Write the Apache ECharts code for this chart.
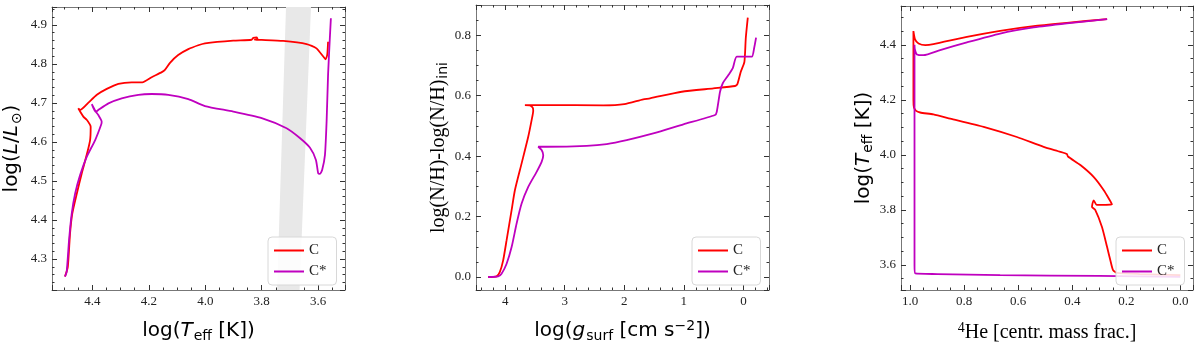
<!DOCTYPE html>
<html lang="en">

<head>
    <meta charset="utf-8" />
    <title>C / C* evolution tracks</title>
    <style>
        html, body { margin: 0; padding: 0; background: #fff; }
        #main { width: 1200px; height: 350px; }
    </style>
</head>

<body>
<div id="main"></div>

<script src="https://cdn.jsdelivr.net/npm/echarts@6/dist/echarts.min.js"></script>
<script type="text/javascript">
    // panel 1: HR diagram, log Teff vs log L
    var hrTeffC = [4.497, 4.487, 4.479, 4.471, 4.455, 4.4375, 4.420, 4.408, 4.406, 4.409, 4.420, 4.432, 4.4435, 4.450, 4.4435, 4.414, 4.384, 4.349, 4.308, 4.261, 4.223, 4.190, 4.154, 4.143, 4.125, 4.096, 4.060, 4.025, 4.001, 3.901, 3.836, 3.830, 3.818, 3.815, 3.825, 3.800, 3.724, 3.641, 3.606, 3.582, 3.574, 3.568, 3.565];
    var hrLumC = [4.255, 4.280, 4.366, 4.417, 4.468, 4.520, 4.567, 4.605, 4.639, 4.645, 4.657, 4.665, 4.678, 4.686, 4.682, 4.701, 4.721, 4.736, 4.749, 4.753, 4.753, 4.766, 4.779, 4.785, 4.803, 4.823, 4.838, 4.848, 4.853, 4.860, 4.862, 4.867, 4.868, 4.864, 4.862, 4.8615, 4.859, 4.851, 4.840, 4.819, 4.812, 4.823, 4.857];
    var hrTeffCs = [4.497, 4.491, 4.4825, 4.473, 4.461, 4.4435, 4.420, 4.390, 4.369, 4.367, 4.379, 4.388, 4.402, 4.388, 4.379, 4.343, 4.296, 4.237, 4.190, 4.131, 4.060, 4.001, 3.901, 3.800, 3.712, 3.665, 3.629, 3.608, 3.600, 3.594, 3.586, 3.576, 3.570, 3.565, 3.559, 3.555];
    var hrLumCs = [4.255, 4.267, 4.349, 4.417, 4.468, 4.515, 4.562, 4.605, 4.644, 4.652, 4.669, 4.678, 4.697, 4.677, 4.682, 4.699, 4.712, 4.721, 4.723, 4.721, 4.710, 4.692, 4.678, 4.661, 4.635, 4.610, 4.585, 4.554, 4.520, 4.518, 4.528, 4.567, 4.656, 4.772, 4.862, 4.917];
    // grey instability strip (corners)
    var stripTeff = [3.714, 3.6255, 3.666, 3.7455];
    var stripLum = [4.946, 4.946, 4.2205, 4.2205];

    // panel 2: log g vs surface N enrichment
    var gravC = [4.286, 4.145, 4.089, 4.034, 3.976, 3.892, 3.837, 3.724, 3.613, 3.556, 3.529, 3.539, 3.585, 3.669, 3.300, 2.353, 2.000, 1.681, 1.568, 1.035, 0.504, 0.139, 0.101, 0.044, -0.017, -0.040, -0.074];
    var nhC = [0.000, 0.002, 0.017, 0.055, 0.122, 0.221, 0.287, 0.376, 0.464, 0.519, 0.550, 0.561, 0.568, 0.569, 0.569, 0.568, 0.572, 0.588, 0.591, 0.613, 0.624, 0.632, 0.638, 0.679, 0.712, 0.790, 0.858];
    var gravCs = [4.286, 4.118, 4.061, 3.976, 3.892, 3.808, 3.724, 3.613, 3.472, 3.388, 3.361, 3.388, 3.445, 3.304, 2.632, 2.296, 1.960, 1.513, 1.008, 0.476, 0.447, 0.392, 0.346, 0.252, 0.178, 0.111, -0.141, -0.180, -0.213];
    var nhCs = [0.000, 0.002, 0.011, 0.044, 0.099, 0.177, 0.243, 0.298, 0.348, 0.381, 0.403, 0.420, 0.431, 0.431, 0.434, 0.440, 0.453, 0.475, 0.505, 0.536, 0.547, 0.613, 0.641, 0.668, 0.691, 0.729, 0.729, 0.757, 0.792];

    // panel 3: central He mass fraction vs log Teff
    var heC = [0.271, 0.420, 0.543, 0.667, 0.790, 0.914, 0.944, 0.969, 0.982, 0.988, 0.988, 0.986, 0.978, 0.963, 0.914, 0.852, 0.728, 0.605, 0.506, 0.444, 0.420, 0.416, 0.370, 0.321, 0.284, 0.253, 0.309, 0.321, 0.327, 0.315, 0.290, 0.271, 0.259, 0.249, 0.234, 0.150, 0.000];
    var teffC = [4.4935, 4.480, 4.468, 4.451, 4.429, 4.4025, 4.399, 4.405, 4.420, 4.450, 4.200, 4.172, 4.160, 4.154, 4.147, 4.132, 4.102, 4.065, 4.029, 4.011, 4.003, 3.994, 3.963, 3.920, 3.872, 3.820, 3.818, 3.835, 3.811, 3.800, 3.738, 3.665, 3.617, 3.581, 3.571, 3.567, 3.563];
    var heCs = [0.271, 0.420, 0.543, 0.667, 0.790, 0.889, 0.951, 0.975, 0.983, 0.984, 0.984, 0.981, 0.900, 0.667, 0.300, 0.000];
    var teffCs = [4.4935, 4.478, 4.463, 4.441, 4.409, 4.381, 4.3625, 4.365, 4.385, 4.400, 3.600, 3.569, 3.567, 3.563, 3.560, 3.557];

    var RED = '#ff0000';
    var MAGENTA = '#bf00bf';
    var SANS = 'DejaVu Sans';
    var SERIF = 'Liberation Serif';

    function zip(xs, ys) {
        return xs.map(function (x, i) { return [x, ys[i]]; });
    }

    // rich pieces for axis titles (italic, subscript, superscript)
    function titleStyle(font) {
        return {
            fontFamily: font, fontSize: 20, color: '#000',
            rich: {
                i: {fontFamily: font, fontSize: 20, fontStyle: 'italic', color: '#000'},
                sub: {fontFamily: SANS, fontSize: 14, padding: [10, 0, 0, 1], color: '#000'},
                sup: {fontFamily: font, fontSize: 14, padding: [0, 0, 10, 0], color: '#000'}
            }
        };
    }

    function makeAxis(gridIndex, position, range, step, minorSplit, digits, name, nameGap, font) {
        var labelled = position === 'bottom' || position === 'left';
        var ax = {
            type: 'value',
            gridIndex: gridIndex,
            position: position,
            min: range[0],
            max: range[1],
            inverse: position === 'bottom' || position === 'top',
            minInterval: step,
            maxInterval: step,
            splitLine: {show: false},
            axisLine: {show: true, onZero: false, lineStyle: {color: '#777', width: 1}},
            axisTick: {show: true, inside: true, length: 5, lineStyle: {color: '#333'}},
            minorTick: {show: true, splitNumber: minorSplit, length: 2.5, lineStyle: {color: '#333'}},
            axisLabel: {
                show: labelled, showMinLabel: false, showMaxLabel: false, margin: 5,
                fontFamily: SERIF, fontSize: 13, color: '#222',
                formatter: function (v) { return v.toFixed(digits); }
            }
        };
        if (labelled) {
            ax.name = name;
            ax.nameLocation = 'middle';
            ax.nameGap = nameGap;
            ax.nameTextStyle = titleStyle(font);
        }
        return ax;
    }

    function track(name, color, gridIndex, data) {
        return {
            name: name, type: 'line', xAxisIndex: gridIndex * 2, yAxisIndex: gridIndex * 2,
            data: data, showSymbol: false, symbol: 'none', clip: true, z: 3,
            smooth: 0.2,
            lineStyle: {color: color, width: 1.8},
            itemStyle: {color: color}
        };
    }

    function legendAt(left) {
        return {
            data: ['C', 'C*'], orient: 'vertical', left: left, top: 237,
            icon: 'rect', itemWidth: 30, itemHeight: 2, itemGap: 6, itemTextGap: 12,
            padding: [6, 10, 6, 6],
            backgroundColor: 'rgba(255,255,255,0.85)', borderColor: '#d8d8d8', borderWidth: 1, borderRadius: 4,
            textStyle: {fontFamily: SERIF, fontSize: 15, color: '#222'}
        };
    }

    var p1x = [3.505, 4.543], p1y = [4.2205, 4.946];
    var p2x = [-0.43, 4.49], p2y = [-0.043, 0.9];
    var p3x = [-0.047, 1.034], p3y = [3.509, 4.541];

    var myChart = echarts.init(document.getElementById('main'), null, {renderer: 'canvas'});
    var option = {
        animation: false,
        backgroundColor: '#fff',
        grid: [
            {left: 52, top: 7, width: 293, height: 283},
            {left: 476, top: 5, width: 293, height: 285},
            {left: 901, top: 6, width: 292, height: 284}
        ],
        xAxis: [
            makeAxis(0, 'bottom', p1x, 0.2, 4, 1, 'log({i|T}{sub|eff} [K])', 29, SANS),
            makeAxis(0, 'top', p1x, 0.2, 4, 1),
            makeAxis(1, 'bottom', p2x, 1, 5, 0, 'log({i|g}{sub|surf} [cm s{sup|−2}])', 29, SANS),
            makeAxis(1, 'top', p2x, 1, 5, 0),
            makeAxis(2, 'bottom', p3x, 0.2, 4, 1, '{sup|4}He [centr. mass frac.]', 31, SERIF),
            makeAxis(2, 'top', p3x, 0.2, 4, 1)
        ],
        yAxis: [
            makeAxis(0, 'left', p1y, 0.1, 5, 1, 'log({i|L}/{i|L}{sub|⊙})', 28, SANS),
            makeAxis(0, 'right', p1y, 0.1, 5, 1),
            makeAxis(1, 'left', p2y, 0.2, 4, 1, 'log(N/H)-log(N/H){sub|ini}', 24, SERIF),
            makeAxis(1, 'right', p2y, 0.2, 4, 1),
            makeAxis(2, 'left', p3y, 0.2, 4, 1, 'log({i|T}{sub|eff} [K])', 25, SANS),
            makeAxis(2, 'right', p3y, 0.2, 4, 1)
        ],
        legend: [legendAt(268), legendAt(692), legendAt(1116)],
        series: [
            {
                type: 'custom', xAxisIndex: 0, yAxisIndex: 0, silent: true, z: 1,
                data: [0],
                renderItem: function (params, api) {
                    var pts = stripTeff.map(function (t, i) { return api.coord([t, stripLum[i]]); });
                    return {type: 'polygon', shape: {points: pts}, style: {fill: '#e8e8e8'}};
                }
            },
            track('C', RED, 0, zip(hrTeffC, hrLumC)),
            track('C*', MAGENTA, 0, zip(hrTeffCs, hrLumCs)),
            track('C', RED, 1, zip(gravC, nhC)),
            track('C*', MAGENTA, 1, zip(gravCs, nhCs)),
            track('C', RED, 2, zip(heC, teffC)),
            track('C*', MAGENTA, 2, zip(heCs, teffCs))
        ]
    };
    myChart.setOption(option);
</script>
</body>

</html>
